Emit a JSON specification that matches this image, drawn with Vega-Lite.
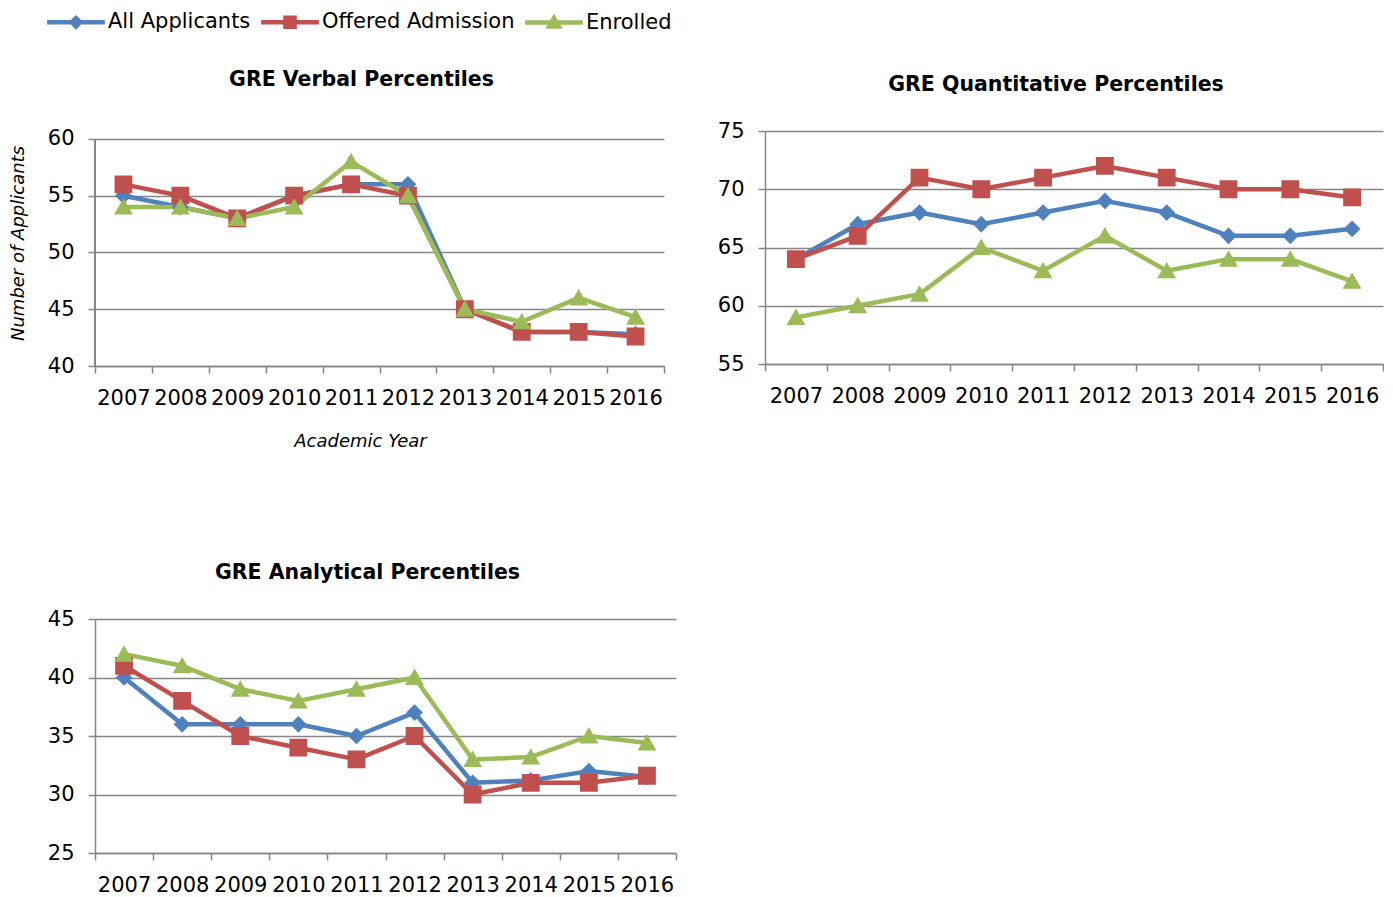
{
  "$schema": "https://vega.github.io/schema/vega-lite/v6.json",
  "background": "white",
  "padding": {"left": 8, "top": 6, "right": 0, "bottom": 4},
  "config": {
    "font": "DejaVu Sans",
    "view": {"stroke": null},
    "axis": {
      "labelFont": "DejaVu Sans", "labelFontSize": 21, "labelColor": "#000000",
      "domainColor": "#868686", "domainWidth": 1.5,
      "tickColor": "#868686", "tickWidth": 1.5, "tickSize": 7,
      "gridColor": "#868686", "gridWidth": 1.5,
      "titleFont": "DejaVu Sans", "titleFontStyle": "italic", "titleFontWeight": "normal",
      "titleFontSize": 18, "titleColor": "#000000"
    },
    "axisX": {"labelAngle": 0, "grid": false, "tickBand": "extent", "labelPadding": 14, "labelBaseline": "top"},
    "axisY": {"grid": true, "labelPadding": 14},
    "legend": {
      "orient": "none", "legendX": -35, "legendY": -125, "direction": "horizontal",
      "symbolSize": 756, "symbolStrokeWidth": 4.5, "symbolOpacity": 1,
      "labelFont": "DejaVu Sans", "labelFontSize": 21, "labelColor": "#000000", "labelLimit": 0,
      "labelOffset": 16, "columnPadding": 1, "padding": 0
    },
    "title": {"font": "DejaVu Sans", "fontSize": 20.5, "fontWeight": "bold", "color": "#000000", "anchor": "middle", "dx": -18, "baseline": "middle"}
  },
  "data": {"values": [
    {"panel": "V", "series": "All Applicants", "year": "2007", "value": 55},
    {"panel": "V", "series": "All Applicants", "year": "2008", "value": 54},
    {"panel": "V", "series": "All Applicants", "year": "2009", "value": 53},
    {"panel": "V", "series": "All Applicants", "year": "2010", "value": 55},
    {"panel": "V", "series": "All Applicants", "year": "2011", "value": 56},
    {"panel": "V", "series": "All Applicants", "year": "2012", "value": 56},
    {"panel": "V", "series": "All Applicants", "year": "2013", "value": 45},
    {"panel": "V", "series": "All Applicants", "year": "2014", "value": 43},
    {"panel": "V", "series": "All Applicants", "year": "2015", "value": 43},
    {"panel": "V", "series": "All Applicants", "year": "2016", "value": 42.8},
    {"panel": "V", "series": "Offered Admission", "year": "2007", "value": 56},
    {"panel": "V", "series": "Offered Admission", "year": "2008", "value": 55},
    {"panel": "V", "series": "Offered Admission", "year": "2009", "value": 53},
    {"panel": "V", "series": "Offered Admission", "year": "2010", "value": 55},
    {"panel": "V", "series": "Offered Admission", "year": "2011", "value": 56},
    {"panel": "V", "series": "Offered Admission", "year": "2012", "value": 55},
    {"panel": "V", "series": "Offered Admission", "year": "2013", "value": 45},
    {"panel": "V", "series": "Offered Admission", "year": "2014", "value": 43},
    {"panel": "V", "series": "Offered Admission", "year": "2015", "value": 43},
    {"panel": "V", "series": "Offered Admission", "year": "2016", "value": 42.6},
    {"panel": "V", "series": "Enrolled", "year": "2007", "value": 54},
    {"panel": "V", "series": "Enrolled", "year": "2008", "value": 54},
    {"panel": "V", "series": "Enrolled", "year": "2009", "value": 53},
    {"panel": "V", "series": "Enrolled", "year": "2010", "value": 54},
    {"panel": "V", "series": "Enrolled", "year": "2011", "value": 58},
    {"panel": "V", "series": "Enrolled", "year": "2012", "value": 55},
    {"panel": "V", "series": "Enrolled", "year": "2013", "value": 45},
    {"panel": "V", "series": "Enrolled", "year": "2014", "value": 43.9},
    {"panel": "V", "series": "Enrolled", "year": "2015", "value": 46},
    {"panel": "V", "series": "Enrolled", "year": "2016", "value": 44.3},
    {"panel": "Q", "series": "All Applicants", "year": "2007", "value": 64},
    {"panel": "Q", "series": "All Applicants", "year": "2008", "value": 67},
    {"panel": "Q", "series": "All Applicants", "year": "2009", "value": 68},
    {"panel": "Q", "series": "All Applicants", "year": "2010", "value": 67},
    {"panel": "Q", "series": "All Applicants", "year": "2011", "value": 68},
    {"panel": "Q", "series": "All Applicants", "year": "2012", "value": 69},
    {"panel": "Q", "series": "All Applicants", "year": "2013", "value": 68},
    {"panel": "Q", "series": "All Applicants", "year": "2014", "value": 66},
    {"panel": "Q", "series": "All Applicants", "year": "2015", "value": 66},
    {"panel": "Q", "series": "All Applicants", "year": "2016", "value": 66.6},
    {"panel": "Q", "series": "Offered Admission", "year": "2007", "value": 64},
    {"panel": "Q", "series": "Offered Admission", "year": "2008", "value": 66},
    {"panel": "Q", "series": "Offered Admission", "year": "2009", "value": 71},
    {"panel": "Q", "series": "Offered Admission", "year": "2010", "value": 70},
    {"panel": "Q", "series": "Offered Admission", "year": "2011", "value": 71},
    {"panel": "Q", "series": "Offered Admission", "year": "2012", "value": 72},
    {"panel": "Q", "series": "Offered Admission", "year": "2013", "value": 71},
    {"panel": "Q", "series": "Offered Admission", "year": "2014", "value": 70},
    {"panel": "Q", "series": "Offered Admission", "year": "2015", "value": 70},
    {"panel": "Q", "series": "Offered Admission", "year": "2016", "value": 69.3},
    {"panel": "Q", "series": "Enrolled", "year": "2007", "value": 59},
    {"panel": "Q", "series": "Enrolled", "year": "2008", "value": 60},
    {"panel": "Q", "series": "Enrolled", "year": "2009", "value": 61},
    {"panel": "Q", "series": "Enrolled", "year": "2010", "value": 65},
    {"panel": "Q", "series": "Enrolled", "year": "2011", "value": 63},
    {"panel": "Q", "series": "Enrolled", "year": "2012", "value": 66},
    {"panel": "Q", "series": "Enrolled", "year": "2013", "value": 63},
    {"panel": "Q", "series": "Enrolled", "year": "2014", "value": 64},
    {"panel": "Q", "series": "Enrolled", "year": "2015", "value": 64},
    {"panel": "Q", "series": "Enrolled", "year": "2016", "value": 62.1},
    {"panel": "A", "series": "All Applicants", "year": "2007", "value": 40},
    {"panel": "A", "series": "All Applicants", "year": "2008", "value": 36},
    {"panel": "A", "series": "All Applicants", "year": "2009", "value": 36},
    {"panel": "A", "series": "All Applicants", "year": "2010", "value": 36},
    {"panel": "A", "series": "All Applicants", "year": "2011", "value": 35},
    {"panel": "A", "series": "All Applicants", "year": "2012", "value": 37},
    {"panel": "A", "series": "All Applicants", "year": "2013", "value": 31},
    {"panel": "A", "series": "All Applicants", "year": "2014", "value": 31.2},
    {"panel": "A", "series": "All Applicants", "year": "2015", "value": 32},
    {"panel": "A", "series": "All Applicants", "year": "2016", "value": 31.5},
    {"panel": "A", "series": "Offered Admission", "year": "2007", "value": 41},
    {"panel": "A", "series": "Offered Admission", "year": "2008", "value": 38},
    {"panel": "A", "series": "Offered Admission", "year": "2009", "value": 35},
    {"panel": "A", "series": "Offered Admission", "year": "2010", "value": 34},
    {"panel": "A", "series": "Offered Admission", "year": "2011", "value": 33},
    {"panel": "A", "series": "Offered Admission", "year": "2012", "value": 35},
    {"panel": "A", "series": "Offered Admission", "year": "2013", "value": 30},
    {"panel": "A", "series": "Offered Admission", "year": "2014", "value": 31},
    {"panel": "A", "series": "Offered Admission", "year": "2015", "value": 31},
    {"panel": "A", "series": "Offered Admission", "year": "2016", "value": 31.6},
    {"panel": "A", "series": "Enrolled", "year": "2007", "value": 42},
    {"panel": "A", "series": "Enrolled", "year": "2008", "value": 41},
    {"panel": "A", "series": "Enrolled", "year": "2009", "value": 39},
    {"panel": "A", "series": "Enrolled", "year": "2010", "value": 38},
    {"panel": "A", "series": "Enrolled", "year": "2011", "value": 39},
    {"panel": "A", "series": "Enrolled", "year": "2012", "value": 40},
    {"panel": "A", "series": "Enrolled", "year": "2013", "value": 33},
    {"panel": "A", "series": "Enrolled", "year": "2014", "value": 33.2},
    {"panel": "A", "series": "Enrolled", "year": "2015", "value": 35},
    {"panel": "A", "series": "Enrolled", "year": "2016", "value": 34.4}
  ]},
  "columns": 2,
  "align": "none",
  "bounds": "flush",
  "spacing": {"row": 253, "column": 89},
  "concat": [
    {
      "width": 569, "height": 235,
      "title": {"text": "GRE Verbal Percentiles", "offset": 37},
      "transform": [{"filter": "datum.panel === 'V'"}],
      "layer": [
        {
          "mark": {"type": "rule", "color": "#868686", "strokeWidth": 1.5},
          "encoding": {
            "x": {"datum": "2007", "type": "ordinal", "bandPosition": 0},
            "y": {"datum": 40, "type": "quantitative"},
            "y2": {"datum": 60}
          }
        },
        {
          "mark": {"type": "line", "strokeWidth": 4.5, "strokeJoin": "round", "strokeCap": "round"},
          "encoding": {
            "x": {"field": "year", "type": "ordinal", "scale": {"type": "band", "paddingInner": 0, "paddingOuter": 0},
                  "axis": {"title": "Academic Year", "titleX": 265, "titleY": 75, "titleBaseline": "middle"}},
            "y": {"field": "value", "type": "quantitative", "scale": {"domain": [40, 60.7], "nice": false, "zero": false},
                  "axis": {"values": [40, 45, 50, 55, 60], "domain": false, "title": "Number of Applicants", "titleX": -77, "titleY": 112, "titleBaseline": "middle", "titleAngle": -90}},
            "color": {"field": "series", "type": "nominal",
                      "scale": {"domain": ["All Applicants", "Offered Admission", "Enrolled"], "range": ["#4F81BD", "#C0504D", "#9BBB59"]},
                      "legend": {"title": null}}
          }
        },
        {
          "mark": {"type": "point", "filled": true, "opacity": 1, "size": 2916, "clip": true},
          "encoding": {
            "x": {"field": "year", "type": "ordinal"},
            "y": {"field": "value", "type": "quantitative"},
            "color": {"field": "series", "type": "nominal",
                      "scale": {"domain": ["All Applicants", "Offered Admission", "Enrolled"], "range": ["#4F81BD", "#C0504D", "#9BBB59"]},
                      "legend": {"title": null}},
            "shape": {"field": "series", "type": "nominal",
                      "scale": {"domain": ["All Applicants", "Offered Admission", "Enrolled"],
                                "range": ["M-2.1,0H2.1M0,-0.31L0.31,0L0,0.31L-0.31,0Z", "M-2.1,0H2.1M-0.33,-0.33H0.33V0.33H-0.33Z", "M-2.1,0H2.1M0,-0.33L0.35,0.28L-0.35,0.28Z"]},
                      "legend": {"title": null}}
          }
        }
      ]
    },
    {
      "width": 618, "height": 233,
      "title": {"text": "GRE Quantitative Percentiles", "offset": 25},
      "transform": [{"filter": "datum.panel === 'Q'"}],
      "layer": [
        {
          "mark": {"type": "line", "strokeWidth": 4.5, "strokeJoin": "round", "strokeCap": "round"},
          "encoding": {
            "x": {"field": "year", "type": "ordinal", "scale": {"type": "band", "paddingInner": 0, "paddingOuter": 0}, "axis": {"title": null}},
            "y": {"field": "value", "type": "quantitative", "scale": {"domain": [55, 75], "nice": false, "zero": false},
                  "axis": {"values": [55, 60, 65, 70, 75], "title": null}},
            "color": {"field": "series", "type": "nominal",
                      "scale": {"domain": ["All Applicants", "Offered Admission", "Enrolled"], "range": ["#4F81BD", "#C0504D", "#9BBB59"]},
                      "legend": {"title": null}}
          }
        },
        {
          "mark": {"type": "point", "filled": true, "opacity": 1, "size": 2916, "clip": true},
          "encoding": {
            "x": {"field": "year", "type": "ordinal"},
            "y": {"field": "value", "type": "quantitative"},
            "color": {"field": "series", "type": "nominal",
                      "scale": {"domain": ["All Applicants", "Offered Admission", "Enrolled"], "range": ["#4F81BD", "#C0504D", "#9BBB59"]},
                      "legend": {"title": null}},
            "shape": {"field": "series", "type": "nominal",
                      "scale": {"domain": ["All Applicants", "Offered Admission", "Enrolled"],
                                "range": ["M-2.1,0H2.1M0,-0.31L0.31,0L0,0.31L-0.31,0Z", "M-2.1,0H2.1M-0.33,-0.33H0.33V0.33H-0.33Z", "M-2.1,0H2.1M0,-0.33L0.35,0.28L-0.35,0.28Z"]},
                      "legend": {"title": null}}
          }
        }
      ]
    },
    {
      "width": 581, "height": 234,
      "title": {"text": "GRE Analytical Percentiles", "offset": 25},
      "transform": [{"filter": "datum.panel === 'A'"}],
      "layer": [
        {
          "mark": {"type": "line", "strokeWidth": 4.5, "strokeJoin": "round", "strokeCap": "round"},
          "encoding": {
            "x": {"field": "year", "type": "ordinal", "scale": {"type": "band", "paddingInner": 0, "paddingOuter": 0}, "axis": {"title": null}},
            "y": {"field": "value", "type": "quantitative", "scale": {"domain": [25, 45], "nice": false, "zero": false},
                  "axis": {"values": [25, 30, 35, 40, 45], "title": null}},
            "color": {"field": "series", "type": "nominal",
                      "scale": {"domain": ["All Applicants", "Offered Admission", "Enrolled"], "range": ["#4F81BD", "#C0504D", "#9BBB59"]},
                      "legend": {"title": null}}
          }
        },
        {
          "mark": {"type": "point", "filled": true, "opacity": 1, "size": 2916, "clip": true},
          "encoding": {
            "x": {"field": "year", "type": "ordinal"},
            "y": {"field": "value", "type": "quantitative"},
            "color": {"field": "series", "type": "nominal",
                      "scale": {"domain": ["All Applicants", "Offered Admission", "Enrolled"], "range": ["#4F81BD", "#C0504D", "#9BBB59"]},
                      "legend": {"title": null}},
            "shape": {"field": "series", "type": "nominal",
                      "scale": {"domain": ["All Applicants", "Offered Admission", "Enrolled"],
                                "range": ["M-2.1,0H2.1M0,-0.31L0.31,0L0,0.31L-0.31,0Z", "M-2.1,0H2.1M-0.33,-0.33H0.33V0.33H-0.33Z", "M-2.1,0H2.1M0,-0.33L0.35,0.28L-0.35,0.28Z"]},
                      "legend": {"title": null}}
          }
        }
      ]
    }
  ]
}
